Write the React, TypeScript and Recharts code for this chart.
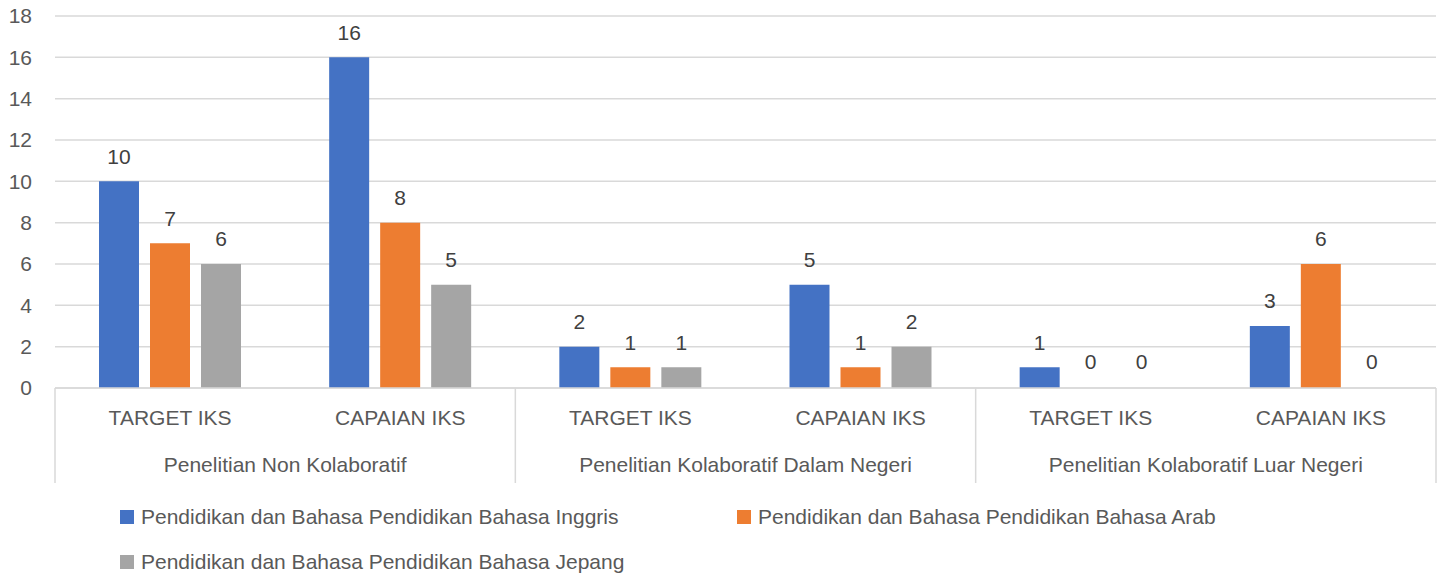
import React from "react";
import { BarChart, Bar, XAxis, YAxis, CartesianGrid, LabelList, Rectangle } from "recharts";

const groups = [
  "Penelitian Non Kolaboratif",
  "Penelitian Kolaboratif Dalam Negeri",
  "Penelitian Kolaboratif Luar Negeri",
];
const subCategories = ["TARGET IKS", "CAPAIAN IKS"];
const seriesNames = [
  "Pendidikan dan Bahasa Pendidikan Bahasa Inggris",
  "Pendidikan dan Bahasa Pendidikan Bahasa Arab",
  "Pendidikan dan Bahasa Pendidikan Bahasa Jepang",
];
const inggris = [10, 16, 2, 5, 1, 3];
const arab = [7, 8, 1, 1, 0, 6];
const jepang = [6, 5, 1, 2, 0, 0];
const yTicks = [0, 2, 4, 6, 8, 10, 12, 14, 16, 18];

const seriesKeys = ["inggris", "arab", "jepang"];
const seriesColors = ["#4472C4", "#ED7D31", "#A5A5A5"];

const data = groups.flatMap((g, gi) =>
  subCategories.map((c, ci) => {
    const i = gi * subCategories.length + ci;
    return {
      key: `${gi}-${ci}`,
      cat: c,
      group: g,
      first: ci === 0,
      inggris: inggris[i],
      arab: arab[i],
      jepang: jepang[i],
    };
  })
);

const FONT = "'Liberation Sans', Arial, sans-serif";
const AXIS_TEXT = "#595959";
const GRID = "#D9D9D9";

const CategoryTick = (props: any) => {
  const { x, y, payload } = props;
  const idx = payload.index ?? props.index;
  const d = data[idx];
  const half = payload.offset ?? 0;
  const lastIdx = data.length - 1;
  return (
    <g>
      <text
        x={x}
        y={y + 30}
        dy="0.355em"
        textAnchor="middle"
        fill={AXIS_TEXT}
        fontSize={21}
        fontFamily={FONT}
      >
        {d.cat}
      </text>
      {d.first && (
        <>
          <line x1={x - half} x2={x - half} y1={y} y2={y + 95} stroke={GRID} strokeWidth={1.5} />
          <text
            x={x + half * (subCategories.length - 1)}
            y={y + 77}
            dy="0.355em"
            textAnchor="middle"
            fill={AXIS_TEXT}
            fontSize={21}
            fontFamily={FONT}
          >
            {d.group}
          </text>
        </>
      )}
      {idx === lastIdx && (
        <line x1={x + half} x2={x + half} y1={y} y2={y + 95} stroke={GRID} strokeWidth={1.5} />
      )}
    </g>
  );
};

const ValueLabel = (props: any) => {
  const { x, y, width, height, value } = props;
  const top = Math.min(Number(y), Number(y) + Number(height));
  const v = Array.isArray(value) ? value[1] - value[0] : value;
  return (
    <text
      x={Number(x) + Number(width) / 2}
      y={top - 25}
      dy="0.355em"
      textAnchor="middle"
      fill="#404040"
      fontSize={21}
      fontFamily={FONT}
    >
      {v}
    </text>
  );
};

const makeShape = (key: string) => (props: any) => {
  if (props.payload && props.payload[key] === 0) return <g />;
  return <Rectangle {...props} />;
};

export default function App() {
  return (
    <div style={{ position: "relative", width: 1443, height: 575, fontFamily: FONT }}>
      <style>{`body{margin:0}`}</style>
      <BarChart
        width={1443}
        height={575}
        data={data}
        margin={{ top: 16, right: 7, bottom: 87, left: 0 }}
        barSize={40}
        barGap={11}
      >
        <CartesianGrid vertical={false} stroke={GRID} strokeWidth={1.5} />
        <YAxis
          domain={[0, 18]}
          ticks={yTicks}
          width={55}
          axisLine={false}
          tickLine={false}
          tickSize={0}
          tickMargin={23}
          tick={{ fill: AXIS_TEXT, fontSize: 21, fontFamily: FONT }}
          interval={0}
        />
        <XAxis
          dataKey="key"
          height={100}
          axisLine={{ stroke: GRID, strokeWidth: 1.5 }}
          tickLine={false}
          tickSize={0}
          tickMargin={0}
          interval={0}
          tick={<CategoryTick />}
        />
        {seriesKeys.map((k, i) => (
          <Bar
            key={k}
            dataKey={k}
            name={seriesNames[i]}
            fill={seriesColors[i]}
            isAnimationActive={false}
            minPointSize={(v: any) => (v === 0 ? 1 : 0)}
            shape={makeShape(k)}
          >
            <LabelList dataKey={k} content={<ValueLabel />} />
          </Bar>
        ))}
      </BarChart>
      <div
        style={{
          position: "absolute",
          left: 120,
          top: 494,
          display: "grid",
          gridTemplateColumns: "617px 617px",
          rowGap: 0,
          fontSize: 21,
          color: AXIS_TEXT,
        }}
      >
        {seriesNames.map((n, i) => (
          <div key={n} style={{ display: "flex", alignItems: "center", height: 45, whiteSpace: "nowrap" }}>
            <span
              style={{
                display: "inline-block",
                width: 14,
                height: 14,
                background: seriesColors[i],
                marginRight: 7,
              }}
            />
            <span>{n}</span>
          </div>
        ))}
      </div>
    </div>
  );
}
